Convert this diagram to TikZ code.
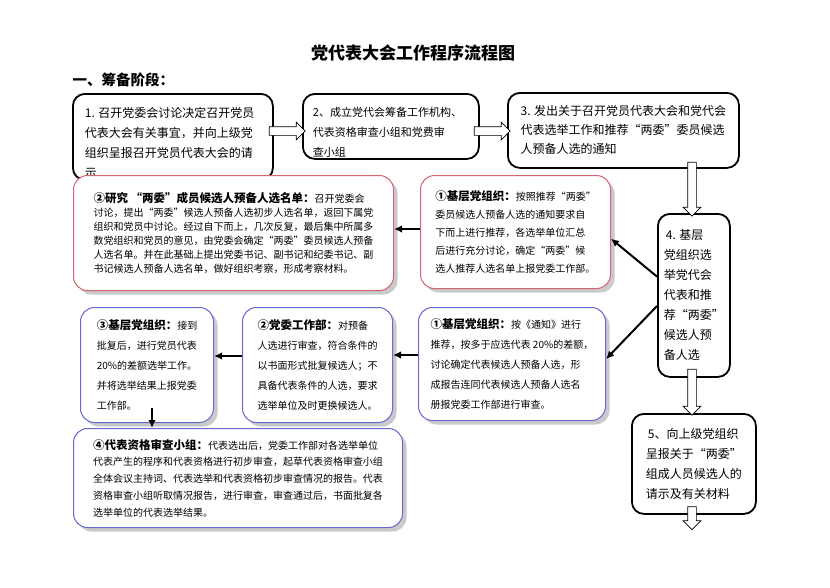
\documentclass[tikz,border=0pt]{standalone}
\usepackage{fontspec}
\setmainfont{Noto Sans CJK SC}
\usetikzlibrary{shapes.arrows,shadows,arrows.meta}

\definecolor{boxred}{RGB}{212,100,112}
\definecolor{boxblue}{RGB}{104,104,210}
\newcommand{\hdr}[1]{{\fontsize{11.5}{14}\selectfont\bfseries #1}}
\newcommand{\toptext}[3]{\parbox[c][#1][t]{#2}{\raggedright #3}}

\tikzset{
  bigbox/.style={draw, line width=1.8pt, rounded corners=12pt, fill=white, align=left,
    anchor=north west, font=\fontsize{12}{20}\selectfont},
  softshadow/.style={drop shadow={shadow xshift=4pt, shadow yshift=-4pt, fill=black!35, opacity=.6}},
  redbox/.style={draw=boxred, line width=1pt, rounded corners=14pt, fill=white, softshadow,
    align=left, anchor=north west, font=\fontsize{10}{14}\selectfont},
  bluebox/.style={draw=boxblue, line width=1pt, rounded corners=14pt, fill=white, softshadow,
    align=left, anchor=north west, font=\fontsize{10}{20}\selectfont},
  hollow/.style={single arrow, draw, fill=white, line width=.7pt, inner sep=4pt,
    single arrow head extend=4.5pt},
  link/.style={line width=2pt, -{Latex[length=8pt,width=7.5pt]}}
}

\begin{document}
\begin{tikzpicture}[x=1pt,y=-1pt]
      \useasboundingbox (0,0) rectangle (830,587);

      \node[font=\fontsize{17}{20}\selectfont\bfseries] (title) at (413,53) {党代表大会工作程序流程图};
      \node[font=\fontsize{14.5}{18}\selectfont\bfseries, anchor=west] (stage) at (69,80) {一、筹备阶段：};

      % top row
      \node[bigbox, minimum width=200pt, minimum height=86pt, inner xsep=12pt, inner ysep=13pt] (b1) at (72,93)
        {\toptext{60pt}{176pt}{1. 召开党委会讨论决定召开党员\\代表大会有关事宜，并向上级党\\组织呈报召开党员代表大会的请\\示}};
      \node[bigbox, minimum width=176pt, minimum height=65pt, inner xsep=10pt, inner ysep=13pt,
        font=\fontsize{11}{20}\selectfont] (b2) at (302,93)
        {\toptext{39pt}{156pt}{2、成立党代会筹备工作机构、\\代表资格审查小组和党费审\\查小组}};
      \node[bigbox, minimum width=231pt, minimum height=75pt, font=\fontsize{12}{19}\selectfont] (b3) at (507,92)
        {3. 发出关于召开党员代表大会和党代会\\代表选举工作和推荐“两委”委员候选\\人预备人选的通知};

      % right column
      \node[bigbox, minimum width=72pt, minimum height=163pt] (b4) at (657,213)
        {\,4. 基层\\党组织选\\举党代会\\代表和推\\荐“两委”\\候选人预\\备人选};
      \node[bigbox, minimum width=124pt, minimum height=100pt] (b5) at (631,413)
        {\,5、向上级党组织\\呈报关于“两委”\\组成人员候选人的\\请示及有关材料};

      % two-committee candidates
      \node[redbox, minimum width=320pt, minimum height=115pt] (r2) at (73,175)
        {\hdr{②研究 “两委”成员候选人预备人选名单：}召开党委会\\
         讨论，提出“两委”候选人预备人选初步人选名单，返回下属党\\
         组织和党员中讨论。经过自下而上，几次反复，最后集中所属多\\
         数党组织和党员的意见，由党委会确定“两委”委员候选人预备\\
         人选名单。并在此基础上提出党委书记、副书记和纪委书记、副\\
         书记候选人预备人选名单，做好组织考察，形成考察材料。};
      \node[redbox, minimum width=190pt, minimum height=113pt, font=\fontsize{10}{18}\selectfont] (r1) at (420,175)
        {\hdr{①基层党组织：}按照推荐“两委”\\
         委员候选人预备人选的通知要求自\\
         下而上进行推荐，各选举单位汇总\\
         后进行充分讨论，确定“两委”候\\
         选人推荐人选名单上报党委工作部。};

      % delegates
      \node[bluebox, minimum width=187pt, minimum height=113pt] (u1) at (418,307)
        {\hdr{①基层党组织：}按《通知》进行\\
         推荐，按多于应选代表 20\%的差额，\\
         讨论确定代表候选人预备人选，形\\
         成报告连同代表候选人预备人选名\\
         册报党委工作部进行审查。};
      \node[bluebox, minimum width=150pt, minimum height=115pt] (u2) at (242,307)
        {\hdr{②党委工作部：}对预备\\
         人选进行审查，符合条件的\\
         以书面形式批复候选人；不\\
         具备代表条件的人选，要求\\
         选举单位及时更换候选人。};
      \node[bluebox, minimum width=133pt, minimum height=115pt] (u3) at (80,307)
        {\hdr{③基层党组织：}接到\\
         批复后，进行党员代表\\
         20\%的差额选举工作。\\
         并将选举结果上报党委\\
         工作部。};
      \node[bluebox, minimum width=329pt, minimum height=99pt, font=\fontsize{10}{16.7}\selectfont] (u4) at (73,428)
        {\hdr{④代表资格审查小组：}代表选出后，党委工作部对各选举单位\\
         代表产生的程序和代表资格进行初步审查，起草代表资格审查小组\\
         全体会议主持词、代表选举和代表资格初步审查情况的报告。代表\\
         资格审查小组听取情况报告，进行审查，审查通过后，书面批复各\\
         选举单位的代表选举结果。};

      \node[hollow, minimum height=36pt] (h12) at (285,131) {};
      \node[hollow, minimum height=36pt] (h23) at (490,131) {};
      \node[hollow, minimum height=54pt, shape border rotate=270] (h34) at (692,187) {};
      \node[hollow, minimum height=46pt, shape border rotate=270] (h45) at (692,390) {};
      \node[hollow, minimum height=23pt, shape border rotate=270] (h56) at (692,516) {};

      \draw[link] (b4.153) -- (r1.-4);
      \draw[link] (b4.196) -- (u1.3);
      \draw[link] ([yshift=3pt]r1.west) -- ([yshift=3pt]r1.west -| r2.east);
      \draw[link] ([yshift=9pt]u1.west) -- ([yshift=9pt]u1.west -| u2.east);
      \draw[link] ([yshift=9pt]u2.west) -- ([yshift=9pt]u2.west -| u3.east);
      \draw[link] ([xshift=5pt,yshift=15pt]u3.south) -- ([xshift=5pt]u3.south |- u4.north);
\end{tikzpicture}
\end{document}
